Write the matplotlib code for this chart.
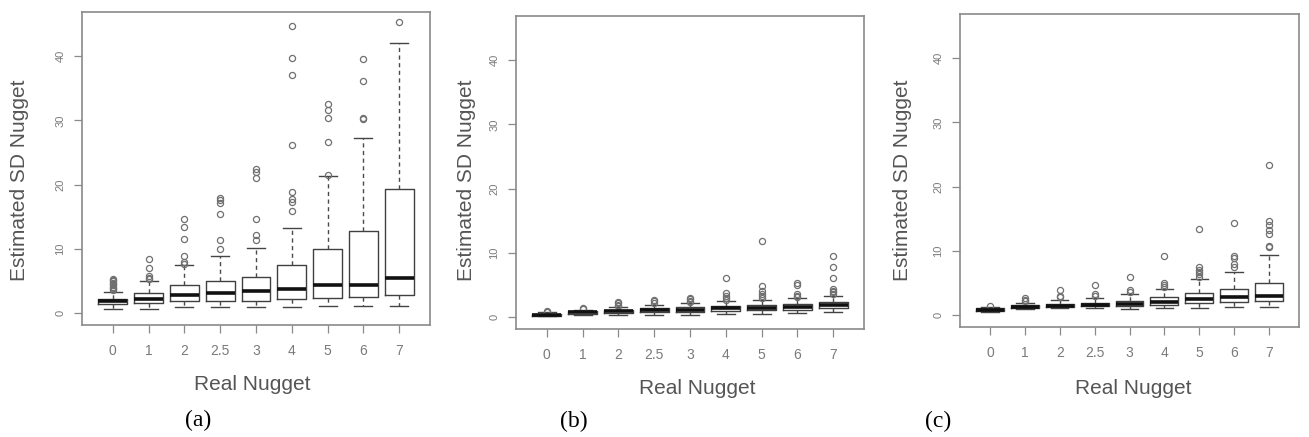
import matplotlib
matplotlib.use("Agg")
import matplotlib.pyplot as plt

categories = ["0", "1", "2", "2.5", "3", "4", "5", "6", "7"]
y_ticks = [0, 10, 20, 30, 40]

# Panel (a)
a_whislo = [0.6, 0.6, 0.9, 0.9, 0.9, 0.9, 1.0, 1.0, 1.0]
a_q1 = [1.4, 1.5, 1.8, 1.8, 1.9, 2.2, 2.3, 2.5, 2.7]
a_med = [1.8, 2.2, 2.7, 3.1, 3.4, 3.7, 4.4, 4.4, 5.5]
a_q3 = [2.2, 3.1, 4.3, 4.9, 5.6, 7.5, 10.0, 12.8, 19.3]
a_whishi = [3.2, 4.9, 7.4, 8.9, 10.1, 13.2, 21.3, 27.3, 42.0]
a_fliers = [
    [3.5, 3.7, 3.9, 4.1, 4.3, 4.5, 4.7, 4.9, 5.1, 5.3],
    [5.2, 5.5, 5.8, 7.0, 8.4],
    [7.6, 8.0, 8.9, 11.5, 13.4, 14.7],
    [9.9, 11.3, 15.4, 17.1, 17.6, 17.9],
    [11.3, 12.2, 14.7, 21.0, 22.0, 22.4],
    [15.9, 17.3, 17.7, 18.9, 26.1, 37.0, 39.7, 44.7],
    [21.5, 26.6, 30.3, 31.6, 32.5],
    [30.2, 30.4, 36.2, 39.5],
    [45.4],
]

# Panel (b)
b_whislo = [0.05, 0.3, 0.3, 0.3, 0.3, 0.4, 0.5, 0.6, 0.7]
b_q1 = [0.2, 0.5, 0.65, 0.7, 0.8, 0.9, 1.0, 1.1, 1.4]
b_med = [0.3, 0.7, 0.9, 1.0, 1.1, 1.3, 1.4, 1.5, 1.8]
b_q3 = [0.45, 0.85, 1.1, 1.3, 1.5, 1.7, 1.9, 2.0, 2.3]
b_whishi = [0.7, 1.1, 1.6, 1.9, 2.1, 2.4, 2.6, 2.9, 3.2]
b_fliers = [
    [0.8, 0.9],
    [1.2, 1.4],
    [1.7, 1.9, 2.1, 2.3],
    [2.1, 2.4, 2.6],
    [2.3, 2.5, 2.8, 3.0],
    [2.6, 2.9, 3.3, 3.7, 6.1],
    [2.9, 3.2, 3.6, 4.0, 4.8, 11.8],
    [3.1, 3.3, 3.5, 5.0, 5.3],
    [3.5, 3.8, 4.1, 4.4, 6.0, 7.8, 9.45],
]

# Panel (c)
c_whislo = [0.4, 0.9, 1.0, 1.0, 0.9, 1.0, 1.0, 1.2, 1.2]
c_q1 = [0.6, 1.1, 1.2, 1.3, 1.4, 1.6, 1.8, 2.0, 2.2]
c_med = [0.8, 1.2, 1.4, 1.6, 1.7, 2.0, 2.4, 2.7, 3.0]
c_q3 = [1.0, 1.5, 1.7, 1.9, 2.1, 2.8, 3.4, 4.1, 5.0]
c_whishi = [1.2, 1.9, 2.3, 2.6, 3.2, 4.0, 5.6, 6.6, 9.3]
c_fliers = [
    [1.3],
    [2.1, 2.3, 2.6],
    [2.7, 3.0, 3.8],
    [3.0, 3.3, 4.7],
    [3.6, 3.8, 5.9],
    [4.4, 4.7, 5.0, 9.1],
    [5.9, 6.3, 6.7, 7.0, 7.4, 13.4],
    [7.5, 8.0, 8.9, 9.2, 14.3],
    [10.5, 10.8, 12.6, 13.2, 14.0, 14.6, 23.4],
]

panels = [
    (a_whislo, a_q1, a_med, a_q3, a_whishi, a_fliers),
    (b_whislo, b_q1, b_med, b_q3, b_whishi, b_fliers),
    (c_whislo, c_q1, c_med, c_q3, c_whishi, c_fliers),
]

W, H = 1309, 437
fig = plt.figure(figsize=(W / 100, H / 100), dpi=100)

# axes boxes in pixel coordinates (left, top, right, bottom)
axes_px = [(82, 12, 430, 325), (516, 16, 864, 329), (960, 14, 1299, 327)]
ylabel_px = [(20, 180), (466, 180), (902, 180)]
xlabel_px = [(252, 385), (697, 388), (1133, 388)]
caption_px = [(198, 420), (574, 421), (938, 421)]
captions = ["(a)", "(b)", "(c)"]

frame_col = "#8a8a8a"
text_col = "#555555"
tick_col = "#7a7a7a"

for i, (lo, q1, med, q3, hi, fl) in enumerate(panels):
    l, t, r, b = axes_px[i]
    ax = fig.add_axes([l / W, 1 - b / H, (r - l) / W, (b - t) / H])
    stats = []
    for j, name in enumerate(categories):
        stats.append(dict(label=name, whislo=lo[j], q1=q1[j], med=med[j],
                          q3=q3[j], whishi=hi[j], fliers=fl[j]))
    positions = list(range(1, len(categories) + 1))
    ax.bxp(stats, positions=positions, widths=0.8, showfliers=True,
           boxprops=dict(color="#404040", linewidth=1.0),
           medianprops=dict(color="#111111", linewidth=2.6, solid_capstyle="butt"),
           whiskerprops=dict(color="#4a4a4a", linewidth=1.0, linestyle=(0, (3, 2.5))),
           capprops=dict(color="#444444", linewidth=1.0),
           capwidths=0.5,
           flierprops=dict(marker="o", markersize=4.4, markerfacecolor="none",
                           markeredgecolor="#707070", markeredgewidth=0.9,
                           linestyle="none"))
    ax.set_xlim(0.14, 9.86)
    ax.set_ylim(-1.9, 46.9)
    ax.set_yticks(y_ticks)
    ax.set_yticklabels([str(v) for v in y_ticks], rotation=90, va="center",
                       fontsize=8, color=tick_col, family="Liberation Sans")
    ax.set_xticks(positions)
    ax.set_xticklabels(categories, fontsize=10, color=tick_col,
                       family="Liberation Sans")
    ax.tick_params(axis="both", length=6, width=0.9, color=frame_col)
    ax.tick_params(axis="x", pad=8)
    ax.tick_params(axis="y", pad=6)
    for s in ax.spines.values():
        s.set_color(frame_col)
        s.set_linewidth(1.2)

    x, y = ylabel_px[i]
    fig.text(x / W, 1 - y / H, "Estimated SD Nugget", rotation=90,
             ha="center", va="center", fontsize=15, color=text_col,
             family="Liberation Sans")
    x, y = xlabel_px[i]
    fig.text(x / W, 1 - y / H, "Real Nugget", ha="center", va="center",
             fontsize=15, color=text_col, family="Liberation Sans")
    x, y = caption_px[i]
    fig.text(x / W, 1 - y / H, captions[i], ha="center", va="center",
             fontsize=17, color="black", family="Liberation Serif")

fig.savefig("out.png", dpi=100)
